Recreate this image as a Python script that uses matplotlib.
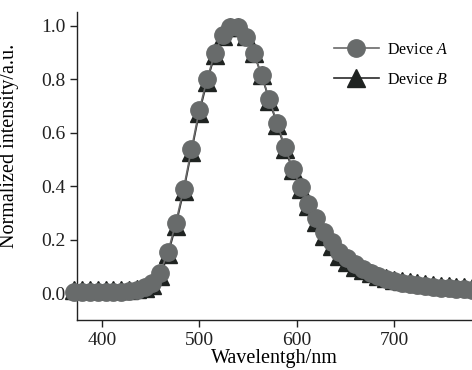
import matplotlib
matplotlib.use("Agg")
import matplotlib.pyplot as plt
import numpy as np

plt.rcParams['font.family'] = ['Liberation Serif', 'DejaVu Serif']
plt.rcParams['mathtext.fontset'] = 'custom'
plt.rcParams['mathtext.it'] = 'Liberation Serif:italic'
plt.rcParams['mathtext.rm'] = 'Liberation Serif'

wavelength = [372, 380, 388, 396, 404, 412, 420, 428, 436, 444, 452, 460, 468, 476,
              484, 492, 500, 508, 516, 524, 532, 540, 548, 556, 564, 572, 580, 588,
              596, 604, 612, 620, 628, 636, 644, 652, 660, 668, 676, 684, 692, 700,
              708, 716, 724, 732, 740, 748, 756, 764, 772, 780]

device_a = [0.004, 0.004, 0.004, 0.004, 0.004, 0.004, 0.005, 0.007, 0.012, 0.022,
            0.040, 0.077, 0.155, 0.263, 0.391, 0.538, 0.683, 0.799, 0.897, 0.963,
            0.996, 0.994, 0.959, 0.897, 0.817, 0.724, 0.636, 0.546, 0.466, 0.397,
            0.335, 0.280, 0.230, 0.192, 0.155, 0.130, 0.108, 0.090, 0.075, 0.063,
            0.053, 0.045, 0.039, 0.034, 0.030, 0.026, 0.023, 0.021, 0.019, 0.017,
            0.015, 0.013]

device_b = [0.012, 0.012, 0.012, 0.012, 0.012, 0.012, 0.012, 0.013, 0.015, 0.018,
            0.030, 0.065, 0.145, 0.253, 0.381, 0.528, 0.673, 0.790, 0.890, 0.960,
            0.996, 0.996, 0.960, 0.897, 0.815, 0.720, 0.630, 0.540, 0.460, 0.390,
            0.325, 0.268, 0.215, 0.175, 0.140, 0.117, 0.100, 0.086, 0.075, 0.066,
            0.058, 0.051, 0.046, 0.041, 0.037, 0.034, 0.031, 0.028, 0.026, 0.024,
            0.022, 0.021]

xticks = [400, 500, 600, 700]
yticks = [0.0, 0.2, 0.4, 0.6, 0.8, 1.0]

fig = plt.figure(figsize=(4.72, 3.70), dpi=100)
ax = fig.add_axes([0.164, 0.135, 0.836, 0.832])

ax.plot(wavelength, device_b, color='#2a2a2a', lw=1.2, marker='^', ms=13,
        mfc='#1f2321', mec='#1f2321', label='Device $\\mathit{B}$', clip_on=False, zorder=2)
ax.plot(wavelength, device_a, color='#6a6a6a', lw=1.2, marker='o', ms=12.5,
        mfc='#686b6b', mec='#686b6b', label='Device $\\mathit{A}$', clip_on=False, zorder=3)

ax.set_xlim(375, 780)
ax.set_ylim(-0.1, 1.05)
ax.set_xticks(xticks)
ax.set_yticks(yticks)
ax.set_yticklabels([f'{v:.1f}' for v in yticks])

for s in ['top', 'right']:
    ax.spines[s].set_visible(False)
for s in ['left', 'bottom']:
    ax.spines[s].set_linewidth(1.0)
    ax.spines[s].set_color('#222222')
ax.tick_params(direction='out', length=5, width=1, labelsize=14, colors='#222222')

ax.set_xlabel('Wavelentgh/nm', fontsize=14.5, labelpad=0)
ax.set_ylabel('Normalized intensity/a.u.', fontsize=14.5)
ax.yaxis.set_label_coords(-0.148, 0.565)

handles, labels = ax.get_legend_handles_labels()
ax.legend(handles[::-1], labels[::-1], loc='upper right', bbox_to_anchor=(0.975, 0.95),
          frameon=False, fontsize=11.5, handlelength=2.8, handletextpad=0.5,
          numpoints=1, markerscale=1.0, labelspacing=0.85)

fig.savefig('out.png', dpi=100)
